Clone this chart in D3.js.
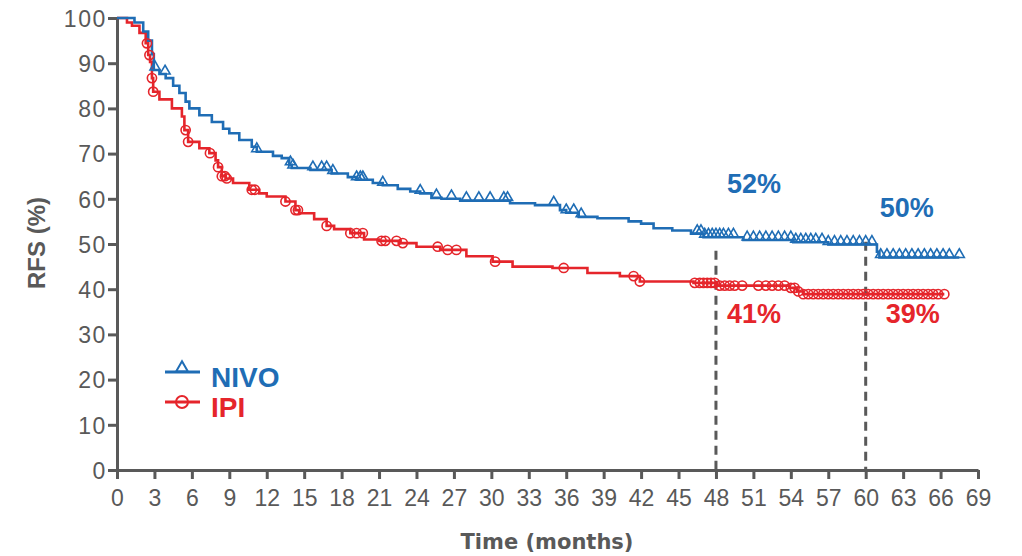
<!DOCTYPE html>
<html>
<head>
<meta charset="utf-8">
<script src="https://cdn.jsdelivr.net/npm/d3@7"></script>
<style>
  html, body { margin: 0; padding: 0; background: #fff; }
  svg { display: block; }
</style>
</head>
<body>
<svg id="chart" width="1022" height="556"></svg>
<script>
// ---------- DATA ----------
const xTicks = [0,3,6,9,12,15,18,21,24,27,30,33,36,39,42,45,48,51,54,57,60,63,66,69];
const yTicks = [0,10,20,30,40,50,60,70,80,90,100];

// NIVO Kaplan-Meier steps (time in months, RFS %)
const nivoTime = [0,1.4,2.1,2.5,2.8,2.95,3.4,3.9,4.5,5.0,5.5,5.8,6.6,7.6,8.5,9.0,9.8,10.8,11.2,12.5,13.2,13.8,14.0,15.5,17.2,18.5,19.2,20.5,21.3,22.5,23.5,24.3,25.2,26.0,27.5,31.5,33.5,35.5,36.0,37.0,38.5,41.0,42.0,43.0,44.5,46.0,47.0,50.2,54.2,57.0,60.9,61.1,67.5];
const nivoSurv = [100,99,97,95,92,88.5,87.6,86.7,85,83.4,81.5,80,78.5,77,75.5,74.5,73,71.5,70.4,69.5,69,67.5,66.8,66.4,65.6,64.8,64.2,63.5,63,62.2,61.6,61.2,60.2,60,59.6,59,58.6,57.5,56.9,56,55.7,55,54.5,53.5,53,52.3,51.5,50.9,50.4,49.9,48.3,47,47];
const nivoCensor = [3.05,3.85,11.2,13.9,14.1,15.7,16.4,16.8,17.3,19.2,19.5,19.7,21.3,24.3,25.6,26.8,28,29,29.9,31,31.3,35,36,36.6,37.2,46.5,46.8,47.1,47.4,47.7,48,48.3,48.6,49,49.4,50.5,51,51.5,52,52.5,53,53.5,54,54.4,54.8,55.2,55.6,56,56.5,57,57.5,58,58.5,59,59.5,60,60.5,61.2,61.7,62.2,62.7,63.2,63.7,64.2,64.7,65.2,65.7,66.2,66.7,67.5];

// IPI Kaplan-Meier steps
const ipiTime = [0,0.8,1.2,1.8,2.3,2.5,2.65,2.8,2.9,3.4,4.4,5.2,5.4,5.7,6.6,7.4,7.9,8.1,8.4,8.7,9.3,10.6,11.4,12.0,13.5,14.3,14.6,15.8,16.8,17.4,18.7,19.8,21.0,22.7,24.0,25.9,28.0,30.1,31.7,34.9,37.7,40.3,41.9,46.2,48.1,53.9,54.5,55.0,66.3];
const ipiSurv = [100,99,98.3,96.7,94.4,91.8,90.3,86.7,83.7,82,80,78.2,75.2,72.6,71.2,70.1,68.5,67,65,64.5,63.5,62,61.2,60.5,59.4,57.5,56.8,55.5,54,53.3,52.4,51,50.7,50.2,49.4,48.7,47.3,46.1,45,44.7,43.6,42.9,41.7,41.4,40.8,40.3,39.5,38.9,38.9];
const ipiCensor = [2.4,2.6,2.8,2.9,5.5,5.7,7.45,8.1,8.4,8.65,8.8,10.8,11.05,13.5,14.3,14.5,16.8,18.7,19.2,19.7,21.2,21.5,22.4,22.9,25.7,26.5,27.2,30.3,35.8,41.4,41.9,46.3,46.7,47,47.3,47.6,47.9,48.3,48.7,49.1,49.5,50.1,51.4,52,52.5,53,53.5,54,54.3,54.6,55,55.4,55.8,56.2,56.6,57,57.4,57.8,58.2,58.6,59,59.4,59.8,60.2,60.6,61,61.4,61.8,62.2,62.6,63,63.4,63.8,64.2,64.6,65,65.4,65.8,66.3];

// Landmark annotations
const landmarkTimes = [48, 60];
const landmarkTops = [48.5, 50.5];
const nivoLabels = ["52%", "50%"];
const ipiLabels = ["41%", "39%"];

const seriesNames = ["NIVO", "IPI"];

// ---------- STYLE ----------
const BLUE = "#1f6db5";
const RED = "#e5252b";
const AXIS = "#595959";

const svg = d3.select("#chart");
const x = d3.scaleLinear().domain([0, 69]).range([117, 978]);
const y = d3.scaleLinear().domain([0, 100]).range([470, 18]);

// step function lookup
function survAt(times, surv, t) {
  let v = surv[0];
  for (let i = 0; i < times.length; i++) { if (times[i] <= t) v = surv[i]; else break; }
  return v;
}

// ---------- AXES ----------
const xAxis = svg.append("g")
  .attr("transform", `translate(0,${y(0)})`)
  .call(d3.axisBottom(x).tickValues(xTicks).tickSize(9).tickPadding(5).tickSizeOuter(0));
const yAxis = svg.append("g")
  .attr("transform", `translate(${x(0)},0)`)
  .call(d3.axisLeft(y).tickValues(yTicks).tickSize(9).tickPadding(1).tickSizeOuter(0));

[xAxis, yAxis].forEach(g => {
  g.select(".domain").attr("stroke", AXIS).attr("stroke-width", 3);
  g.selectAll(".tick line").attr("stroke", AXIS).attr("stroke-width", 3);
  g.selectAll(".tick text")
    .attr("fill", AXIS)
    .style("font-family", "'Liberation Sans', Arial, sans-serif")
    .style("font-size", "23px");
});
xAxis.selectAll(".tick text").attr("dy", "0.95em");
yAxis.selectAll(".tick text").attr("dy", "0.36em").style("letter-spacing", "1.6px");

// axis titles
svg.append("text")
  .attr("transform", `translate(45,243) rotate(-90)`)
  .attr("text-anchor", "middle")
  .attr("fill", AXIS)
  .style("font-family", "'Liberation Sans', Arial, sans-serif")
  .style("font-weight", "bold")
  .style("font-size", "24px")
  .text("RFS (%)");

svg.append("text")
  .attr("x", 547).attr("y", 549)
  .attr("text-anchor", "middle")
  .attr("fill", AXIS)
  .style("font-family", "'DejaVu Sans', Verdana, sans-serif")
  .style("font-weight", "bold")
  .style("font-size", "21px")
  .text("Time (months)");

// ---------- LANDMARK DASHED LINES ----------
svg.append("g").selectAll("line")
  .data(landmarkTimes)
  .join("line")
  .attr("x1", d => x(d)).attr("x2", d => x(d))
  .attr("y1", (d, i) => y(landmarkTops[i])).attr("y2", y(0))
  .attr("stroke", AXIS).attr("stroke-width", 3)
  .attr("stroke-dasharray", "9,6");

// ---------- CURVES ----------
const line = d3.line().curve(d3.curveStepAfter).x(d => x(d[0])).y(d => y(d[1]));

const nivoPts = nivoTime.map((t, i) => [t, nivoSurv[i]]);
const ipiPts = ipiTime.map((t, i) => [t, ipiSurv[i]]);

svg.append("path").datum(ipiPts)
  .attr("d", line).attr("fill", "none")
  .attr("stroke", RED).attr("stroke-width", 2.6);
svg.append("path").datum(nivoPts)
  .attr("d", line).attr("fill", "none")
  .attr("stroke", BLUE).attr("stroke-width", 2.6);

// censor marks
const tri = d3.symbol().type(d3.symbolTriangle).size(44);
svg.append("g").selectAll("path")
  .data(nivoCensor)
  .join("path")
  .attr("d", tri)
  .attr("transform", d => `translate(${x(d)},${y(survAt(nivoTime, nivoSurv, d)) - 3})`)
  .attr("fill", "none").attr("stroke", BLUE).attr("stroke-width", 1.6);

svg.append("g").selectAll("circle")
  .data(ipiCensor)
  .join("circle")
  .attr("cx", d => x(d))
  .attr("cy", d => y(survAt(ipiTime, ipiSurv, d)))
  .attr("r", 4.6)
  .attr("fill", "none").attr("stroke", RED).attr("stroke-width", 1.6);

// ---------- LANDMARK LABELS ----------
const labelFont = "'Liberation Sans', Arial, sans-serif";
svg.append("g").selectAll("text")
  .data(nivoLabels)
  .join("text")
  .attr("x", (d, i) => x(landmarkTimes[i]) + [11, 14][i])
  .attr("y", (d, i) => [193, 217][i])
  .attr("fill", BLUE)
  .style("font-family", labelFont).style("font-weight", "bold").style("font-size", "27px")
  .text(d => d);
svg.append("g").selectAll("text")
  .data(ipiLabels)
  .join("text")
  .attr("x", (d, i) => x(landmarkTimes[i]) + [11, 20][i])
  .attr("y", 323)
  .attr("fill", RED)
  .style("font-family", labelFont).style("font-weight", "bold").style("font-size", "27px")
  .text(d => d);

// ---------- LEGEND ----------
const legend = svg.append("g");
const legY = [372, 402];
const legColors = [BLUE, RED];
seriesNames.forEach((name, i) => {
  legend.append("line")
    .attr("x1", 165).attr("x2", 200).attr("y1", legY[i]).attr("y2", legY[i])
    .attr("stroke", legColors[i]).attr("stroke-width", 2.8);
  if (i === 0) {
    legend.append("path")
      .attr("d", d3.symbol().type(d3.symbolTriangle).size(60))
      .attr("transform", `translate(182,${legY[i] - 4})`)
      .attr("fill", "none").attr("stroke", BLUE).attr("stroke-width", 2);
  } else {
    legend.append("circle")
      .attr("cx", 182).attr("cy", legY[i]).attr("r", 6)
      .attr("fill", "none").attr("stroke", RED).attr("stroke-width", 2);
  }
  legend.append("text")
    .attr("x", 211).attr("y", legY[i] + 7)
    .attr("dy", "0.3em")
    .attr("fill", legColors[i])
    .style("font-family", labelFont).style("font-weight", "bold").style("font-size", "28px")
    .text(name);
});
</script>
</body>
</html>
